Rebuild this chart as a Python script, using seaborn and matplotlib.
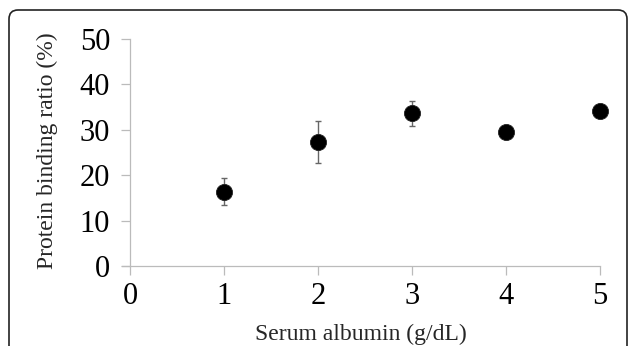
import pandas as pd
import seaborn as sns
import matplotlib.pyplot as plt
from matplotlib.patches import FancyBboxPatch
from matplotlib.transforms import IdentityTransform

# data
albumina = [1, 2, 3, 4, 5]
ligacao = [16.4, 27.3, 33.6, 29.5, 34.1]
erro = [3.0, 4.7, 2.8, 0.0, 0.0]

df = pd.DataFrame({"albumina": albumina, "ligacao": ligacao, "erro": erro})

sns.set_style("white")
plt.rcParams['font.family'] = ['Liberation Serif', 'DejaVu Serif']

fig = plt.figure(figsize=(6.29, 3.46), dpi=100)
graf = fig.add_axes([121.7 / 629, 80 / 346, (600 - 121.7) / 629, (266 - 39) / 346])

# barras de erro
graf.errorbar(df["albumina"], df["ligacao"], yerr=df["erro"], fmt="none",
              ecolor="#666666", elinewidth=1.0, capsize=2, capthick=1.0, zorder=2)
# pontos
sns.scatterplot(data=df, x="albumina", y="ligacao", ax=graf, s=135,
                color="black", edgecolor="#222222", linewidth=0.6, zorder=3,
                clip_on=False)

graf.set_xlim(-0.09, 5)
graf.set_ylim(0, 50)
graf.set_xticks(range(0, 6))
graf.set_yticks(range(0, 51, 10))

for lado in ["top", "right"]:
    graf.spines[lado].set_visible(False)
graf.spines["left"].set_position(("data", 0))
for lado in ["left", "bottom"]:
    graf.spines[lado].set_color("#bbbbbb")
    graf.spines[lado].set_linewidth(0.9)

graf.tick_params(axis="both", direction="out", length=6.5, width=0.9,
                 color="#bbbbbb", labelsize=22, labelcolor="black")
graf.tick_params(axis="y", pad=8, left=True)
graf.tick_params(axis="x", pad=5, bottom=True)

graf.set_xlabel("Serum albumin (g/dL)", fontsize=17, labelpad=9)
graf.set_ylabel("Protein binding ratio (%)", fontsize=17)
graf.yaxis.set_label_coords(-0.134, 0.51)

# moldura arredondada
moldura = FancyBboxPatch((9, -30), 618, 346 - 10 + 30,
                         boxstyle="round,pad=0,rounding_size=9",
                         transform=IdentityTransform(), facecolor="none",
                         edgecolor="#222222", linewidth=1.2)
fig.add_artist(moldura)

fig.savefig("out.png", dpi=100)
plt.close()
